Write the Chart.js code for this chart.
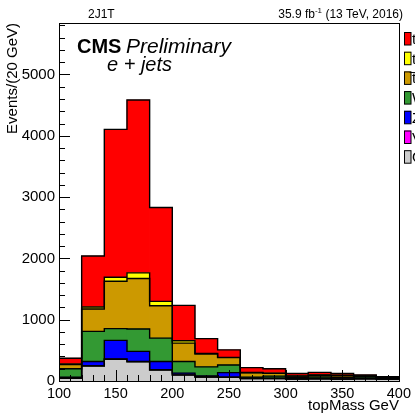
<!DOCTYPE html>
<html><head><meta charset="utf-8">
<script src="https://cdn.jsdelivr.net/npm/chart.js@4/dist/chart.umd.min.js"></script>
<style>html,body{margin:0;padding:0;background:#fff;overflow:hidden}</style>
</head><body>
<canvas id="c" width="415" height="414"></canvas>
<script>
// bin centres of the 20 GeV topMass bins (100-400 GeV)
const binCenters = [110,130,150,170,190,210,230,250,270,290,310,330,350,370,390];
// stacked components, bottom to top
const qcd     = [45, 245, 354, 315, 180, 98, 65, 60, 40, 40, 30, 35, 30, 35, 30];
const vv      = [1, 3, 4, 4, 3, 2, 1, 1, 1, 1, 0, 0, 0, 0, 0];
const zjets   = [15, 70, 304, 164, 135, 28, 15, 75, 3, 3, 10, 5, 5, 5, 3];
const wjets   = [140, 491, 192, 366, 382, 189, 150, 125, 20, 35, 20, 25, 25, 25, 15];
const ttbar   = [66, 366, 772, 822, 528, 301, 210, 120, 70, 45, 20, 30, 30, 15, 10];
const tw      = [10, 32, 66, 93, 71, 38, 10, 5, 5, 5, 3, 5, 5, 2, 2];
const tchan   = [95, 831, 2413, 2820, 1531, 577, 240, 121, 80, 70, 40, 40, 30, 15, 10];
const xTicks  = [100, 150, 200, 250, 300, 350, 400];
const yTicks  = [0, 1000, 2000, 3000, 4000, 5000];
const labels  = ['QCD', 'VV', 'Z+jets', 'W+jets', 't\u0305t', 'tW', 't-channel'];

const FONT = "'Liberation Sans', Arial, Helvetica, sans-serif";
const series = [qcd, vv, zjets, wjets, ttbar, tw, tchan];
const colors = ['#cccccc', '#ff00ff', '#0000ff', '#339933', '#cc9900', '#ffff00', '#ff0000'];

const datasets = series.map((arr, k) => ({
  label: labels[k],
  data: binCenters.map((c, i) => ({x: c, y: arr[i]})),
  backgroundColor: colors[k],
  borderWidth: 0,
  barPercentage: 1.0,
  categoryPercentage: 1.0
}));

const rootPlugin = {
  id: 'rootStyle',
  afterDatasetsDraw(chart) {
    const ctx = chart.ctx, a = chart.chartArea;
    const xs = chart.scales.x, ys = chart.scales.y;
    ctx.save();
    // histogram outlines (step lines) from bar elements
    ctx.strokeStyle = '#000';
    ctx.lineWidth = 1.4;
    chart.data.datasets.forEach((ds, k) => {
      const meta = chart.getDatasetMeta(k);
      ctx.beginPath();
      meta.data.forEach((el, i) => {
        const l = el.x - el.width / 2, r = el.x + el.width / 2;
        if (i === 0) ctx.moveTo(l, el.y); else ctx.lineTo(l, el.y);
        ctx.lineTo(r, el.y);
      });
      ctx.stroke();
    });
    // inward ticks
    ctx.lineWidth = 1;
    ctx.beginPath();
    for (let v = 0; v <= ys.max; v += 200) {
      const y = Math.round(ys.getPixelForValue(v)) + 0.5;
      const len = (v % 1000 === 0) ? 11 : 6;
      ctx.moveTo(a.left, y); ctx.lineTo(a.left + len, y);
    }
    for (let v = xs.min; v <= xs.max; v += 10) {
      const x = Math.round(xs.getPixelForValue(v)) + 0.5;
      const len = (v % 50 === 0) ? 11 : 6;
      ctx.moveTo(x, a.bottom); ctx.lineTo(x, a.bottom - len);
    }
    ctx.stroke();
    // frame
    ctx.strokeRect(Math.round(a.left) + 0.5, Math.round(a.top) + 0.5,
                   Math.round(a.right - a.left), Math.round(a.bottom - a.top));
    ctx.restore();
  },
  afterDraw(chart) {
    const ctx = chart.ctx;
    ctx.save();
    ctx.fillStyle = '#000';
    ctx.textBaseline = 'alphabetic';
    // top labels
    ctx.font = '12px ' + FONT;
    ctx.textAlign = 'left';
    ctx.fillText('2J1T', 88, 18);
    // lumi text, right aligned with superscript
    const p1 = '35.9 fb', sup = '-1', p2 = ' (13 TeV, 2016)';
    const w1 = ctx.measureText(p1).width, w3 = ctx.measureText(p2).width;
    ctx.font = '8px ' + FONT;
    const w2 = ctx.measureText(sup).width;
    let x = 403 - (w1 + w2 + w3);
    ctx.font = '12px ' + FONT;
    ctx.fillText(p1, x, 18);
    ctx.font = '8px ' + FONT;
    ctx.fillText(sup, x + w1, 13);
    ctx.font = '12px ' + FONT;
    ctx.fillText(p2, x + w1 + w2, 18);
    // CMS Preliminary
    ctx.font = 'bold 20px ' + FONT;
    ctx.fillText('CMS', 77, 53);
    ctx.font = 'italic 21px ' + FONT;
    ctx.fillText('Preliminary', 126, 53);
    ctx.font = 'italic 20px ' + FONT;
    ctx.fillText('e + jets', 107, 71);
    // legend (clipped by the canvas edge)
    const order = [6, 5, 4, 3, 2, 1, 0];
    order.forEach((k, j) => {
      const top = 32 + j * 19.7;
      ctx.fillStyle = colors[k];
      ctx.fillRect(404, top, 7, 13);
      ctx.strokeStyle = '#000';
      ctx.lineWidth = 1;
      ctx.strokeRect(404.5, top + 0.5, 6.5, 12.5);
      ctx.fillStyle = '#000';
      ctx.font = '15px ' + FONT;
      ctx.fillText(chart.data.datasets[k].label, 412, top + 12);
    });
    ctx.restore();
  }
};

new Chart(document.getElementById('c'), {
  type: 'bar',
  data: { datasets },
  options: {
    responsive: false,
    animation: false,
    devicePixelRatio: 1,
    layout: { padding: { top: 23, right: 15, left: 0, bottom: 0 } },
    plugins: { legend: { display: false }, tooltip: { enabled: false } },
    scales: {
      x: {
        type: 'linear', min: 100, max: 400, stacked: true, offset: false,
        grid: { display: false, drawTicks: false },
        border: { display: false },
        afterBuildTicks(s) { s.ticks = xTicks.map(v => ({ value: v })); },
        afterFit(s) { s.height = 33; },
        ticks: { color: '#000', font: { family: FONT, size: 14.5 }, padding: 4, maxRotation: 0, autoSkip: false,
                 callback: v => String(v) },
        title: { display: true, text: 'topMass GeV', align: 'end', color: '#000',
                 font: { family: FONT, size: 15, lineHeight: 1 }, padding: { top: 0, bottom: 0.5 } }
      },
      y: {
        min: 0, max: 5840, stacked: true,
        grid: { display: false, drawTicks: false },
        border: { display: false },
        afterBuildTicks(s) { s.ticks = yTicks.map(v => ({ value: v })); },
        afterFit(s) { s.width = 59; },
        ticks: { color: '#000', font: { family: FONT, size: 15 }, padding: 4, callback: v => String(v) },
        title: { display: true, text: 'Events/(20 GeV)', align: 'end', color: '#000',
                 font: { family: FONT, size: 15 }, padding: { top: 4, bottom: 0 } }
      }
    }
  },
  plugins: [rootPlugin]
});
</script>
</body></html>
